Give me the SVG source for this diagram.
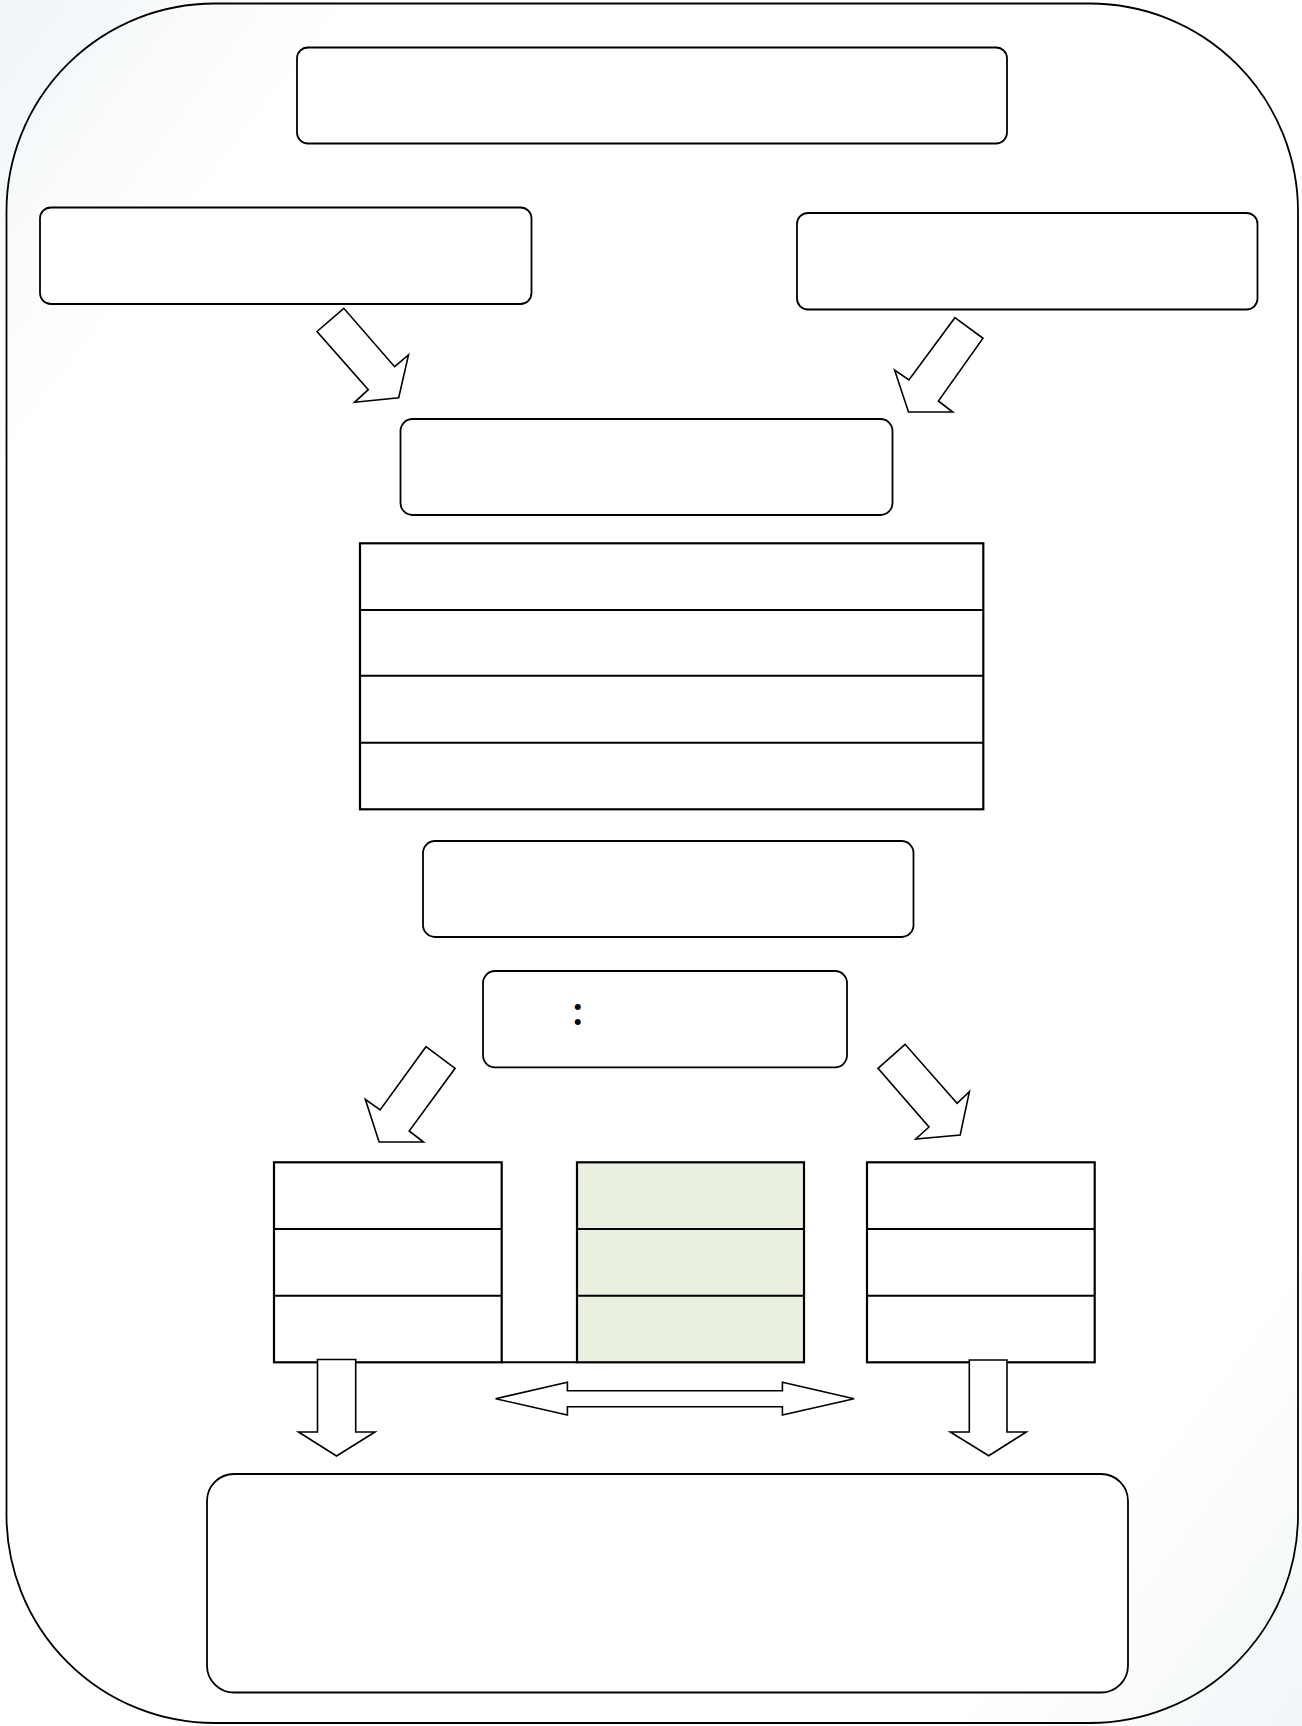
<svg xmlns="http://www.w3.org/2000/svg" width="1302" height="1726" viewBox="0 0 1302 1726">
  <defs>
    <linearGradient id="bg" x1="0" y1="0" x2="1" y2="1">
      <stop offset="0" stop-color="#f1f5f8"/>
      <stop offset="0.14" stop-color="#ffffff"/>
      <stop offset="0.86" stop-color="#ffffff"/>
      <stop offset="1" stop-color="#f2f6f8"/>
    </linearGradient>
    <style>
      .box { fill: #ffffff; stroke: #000000; stroke-width: 1.8; }
      .tbl { fill: #ffffff; stroke: #000000; stroke-width: 2.2; }
      .green { fill: #e9f0df; }
      .row { stroke: #000000; stroke-width: 2; fill: none; }
      .arrow { fill: #ffffff; stroke: #000000; stroke-width: 1.6; stroke-linejoin: miter; }
      .lbl { font-family: "Noto Sans", "Liberation Sans", sans-serif; font-size: 38px; font-weight: 600; fill: #000000; }
    </style>
  </defs>

  <rect x="0" y="0" width="1302" height="1726" fill="url(#bg)"/>

  <g id="frame">
    <rect x="6.5" y="3.5" width="1291.5" height="1719.5" rx="208" ry="208" fill="none" stroke="#000000" stroke-width="1.8"/>
  </g>

  <g id="top-box">
    <rect class="box" x="297" y="47.5" width="710" height="96" rx="11" ry="11"/>
  </g>
  <g id="left-box">
    <rect class="box" x="40" y="207.5" width="491.5" height="96.5" rx="11" ry="11"/>
  </g>
  <g id="right-box">
    <rect class="box" x="797" y="213" width="460.5" height="96.5" rx="11" ry="11"/>
  </g>
  <g id="center-box-1">
    <rect class="box" x="400.5" y="419" width="492" height="96" rx="12" ry="12"/>
  </g>

  <g id="table-main">
    <rect class="tbl" x="360" y="543.3" width="623.3" height="266"/>
    <line class="row" x1="360" y1="610" x2="983.3" y2="610"/>
    <line class="row" x1="360" y1="675.8" x2="983.3" y2="675.8"/>
    <line class="row" x1="360" y1="742.7" x2="983.3" y2="742.7"/>
  </g>

  <g id="center-box-2">
    <rect class="box" x="423" y="841" width="490.5" height="96" rx="12" ry="12"/>
  </g>

  <g id="colon-box">
    <rect class="box" x="483" y="971" width="364" height="96.3" rx="12" ry="12"/>
    <text class="lbl" x="577.7" y="1025" text-anchor="middle">:</text>
  </g>

  <g id="table-left">
    <rect class="tbl" x="274" y="1162.3" width="227.7" height="200"/>
    <line class="row" x1="274" y1="1229" x2="501.7" y2="1229"/>
    <line class="row" x1="274" y1="1295.7" x2="501.7" y2="1295.7"/>
  </g>
  <g id="table-middle">
    <rect class="tbl green" x="577" y="1162.3" width="227" height="200"/>
    <line class="row" x1="577" y1="1229" x2="804" y2="1229"/>
    <line class="row" x1="577" y1="1295.7" x2="804" y2="1295.7"/>
  </g>
  <g id="table-right">
    <rect class="tbl" x="867" y="1162.3" width="227.7" height="200"/>
    <line class="row" x1="867" y1="1229" x2="1094.7" y2="1229"/>
    <line class="row" x1="867" y1="1295.7" x2="1094.7" y2="1295.7"/>
  </g>

  <g id="bottom-box">
    <rect class="box" x="207" y="1474" width="921" height="218.5" rx="27" ry="27"/>
  </g>

  <g id="connectors">
    <line x1="501.7" y1="1362.3" x2="577" y2="1362.3" stroke="#000000" stroke-width="2"/>
    <polygon class="arrow" points="317,331.5 343.8,308.3 394.6,366.7 408.5,355 398.7,397.7 354.5,402.3 368.3,389.7"/>
    <polygon class="arrow" points="954.9,317.7 983,338.3 938.4,401 952.7,412 908.5,412 894.6,370 908.9,380"/>
    <polygon class="arrow" points="426,1046.7 455.1,1068.3 409.2,1131 423.5,1142 379.1,1142 365.3,1099.3 380.1,1110"/>
    <polygon class="arrow" points="905.1,1044.3 878,1068.3 929,1127 915.8,1139 960.2,1135 969.4,1091.7 957.1,1103.3"/>
    <polygon class="arrow" points="317.5,1359.5 355.7,1359.5 355.7,1432 375,1432 336.5,1456 298.5,1432 317.5,1432"/>
    <polygon class="arrow" points="969.3,1360 1007,1360 1007,1432 1026.3,1432 988.7,1455.7 950.3,1432 969.3,1432"/>
    <polygon class="arrow" points="495.6,1398.7 567.4,1382.3 567.4,1390.7 782.4,1390.7 782.4,1382.3 854.1,1398.7 782.4,1415 782.4,1406.7 567.4,1406.7 567.4,1415"/>
  </g>
</svg>
